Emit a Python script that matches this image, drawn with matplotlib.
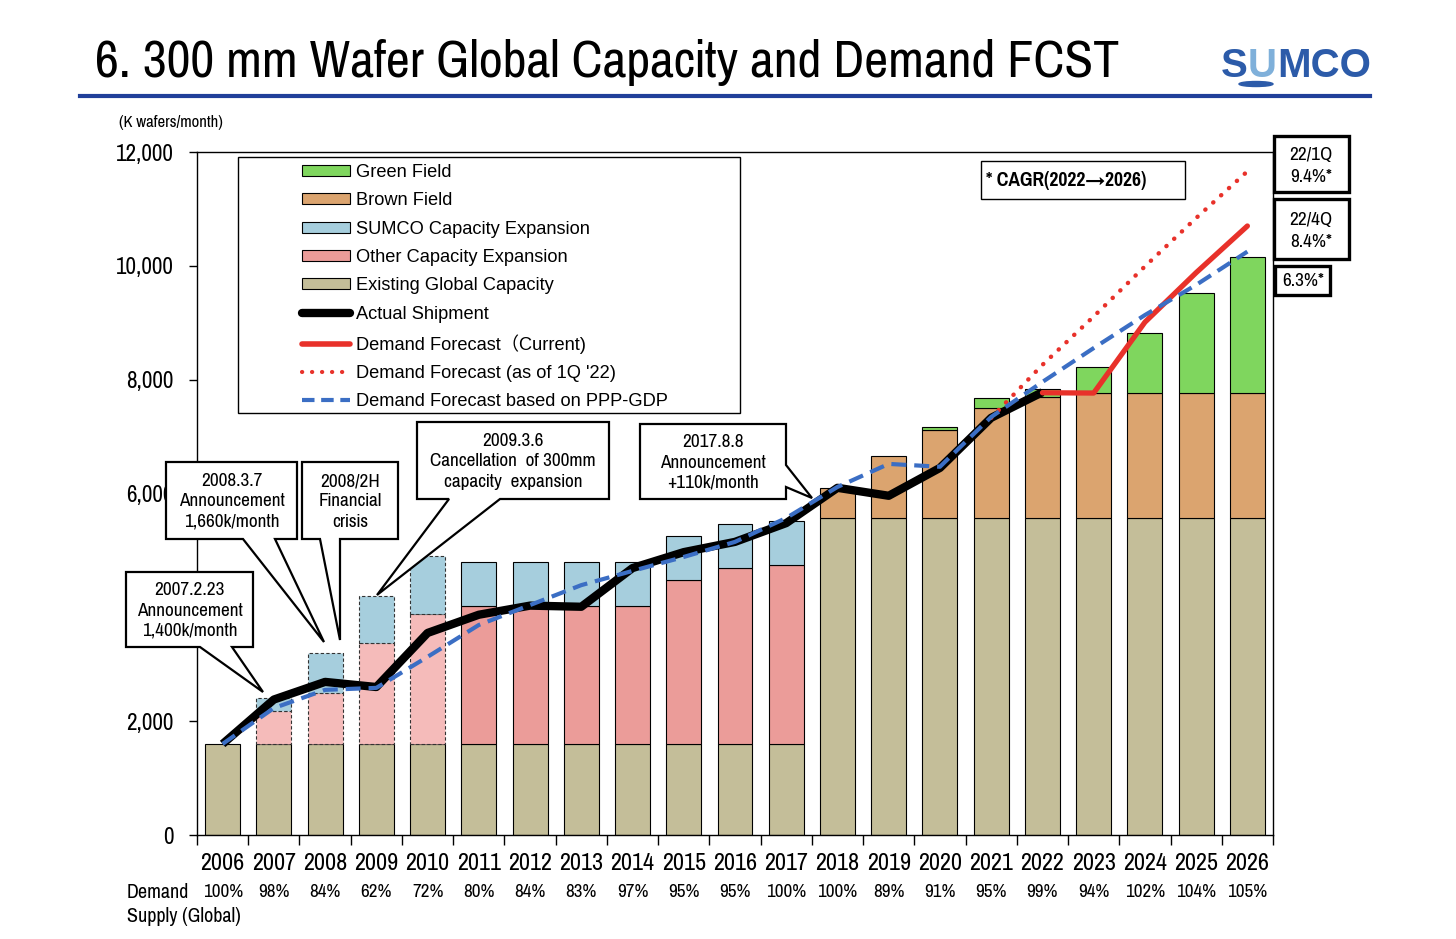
import matplotlib
matplotlib.use('Agg')
import matplotlib.pyplot as plt
import matplotlib.transforms as mtransforms
from matplotlib.patches import Rectangle, Polygon, Ellipse, Patch
from matplotlib.lines import Line2D
from matplotlib.ticker import FixedLocator
from matplotlib import font_manager as fm
import numpy as np

# ---------------- data ----------------
years = [2006, 2007, 2008, 2009, 2010, 2011, 2012, 2013, 2014, 2015, 2016,
         2017, 2018, 2019, 2020, 2021, 2022, 2023, 2024, 2025, 2026]
existing_capacity = [1600, 1600, 1600, 1600, 1600, 1600, 1600, 1600, 1600, 1600, 1600,
                     1600, 5570, 5570, 5570, 5570, 5570, 5570, 5570, 5570, 5570]
other_expansion = [0, 580, 895, 1775, 2285, 2420, 2420, 2420, 2420, 2880, 3090,
                   3145, 0, 0, 0, 0, 0, 0, 0, 0, 0]
sumco_expansion = [0, 230, 700, 825, 1020, 775, 775, 775, 775, 775, 775,
                   775, 0, 0, 0, 0, 0, 0, 0, 0, 0]
brown_field = [0, 0, 0, 0, 0, 0, 0, 0, 0, 0, 0,
               0, 530, 1090, 1550, 1935, 2130, 2195, 2195, 2195, 2195]
green_field = [0, 0, 0, 0, 0, 0, 0, 0, 0, 0, 0,
               0, 0, 0, 50, 175, 140, 455, 1055, 1755, 2390]
nan = np.nan
actual_shipment = [1600, 2380, 2690, 2600, 3550, 3870, 4030, 4010, 4690, 4970, 5150,
                   5480, 6100, 5960, 6450, 7330, 7780, nan, nan, nan, nan]
demand_current = [nan, nan, nan, nan, nan, nan, nan, nan, nan, nan, nan,
                  nan, nan, nan, nan, nan, 7770, 7765, 9010, 9880, 10700]
demand_1q22 = [nan, nan, nan, nan, nan, nan, nan, nan, nan, nan, nan,
               nan, nan, nan, nan, 7330, 8260, 9110, 9990, 10840, 11660]
demand_ppp_gdp = [1600, 2230, 2550, 2585, 3130, 3690, 4040, 4390, 4640, 4885, 5150,
                  5570, 6115, 6520, 6470, 7345, 7960, 8555, 9135, 9665, 10250]
demand_supply_ratio = ['100%', '98%', '84%', '62%', '72%', '80%', '84%', '83%', '97%',
                       '95%', '95%', '100%', '100%', '89%', '91%', '95%', '99%', '94%',
                       '102%', '104%', '105%']
planned_years = [2007, 2008, 2009, 2010]   # drawn with dashed outlines
y_ticks = [0, 2000, 4000, 6000, 8000, 10000, 12000]
y_tick_labels = ['0', '2,000', '', '6,000', '8,000', '10,000', '12,000']  # 4,000 hidden by callout

# ---------------- fonts ----------------
names = {f.name for f in fm.fontManager.ttflist}
NARROW = 'Liberation Sans'
for cand in ['Liberation Sans Narrow', 'Arial Narrow', 'Pragati Narrow', 'Roboto Condensed',
             'Archivo Narrow', 'PT Sans Narrow', 'IBM Plex Sans Condensed', 'Open Sans Condensed']:
    if cand in names:
        NARROW = cand
        break
REGULAR = 'Arimo' if 'Arimo' in names else 'Liberation Sans'
NARROW_FAM = [NARROW, 'DejaVu Sans']
REG_FAM = [REGULAR, 'Noto Sans CJK JP', 'DejaVu Sans']
plt.rcParams['font.family'] = NARROW_FAM

# ---------------- colours ----------------
C_EXIST = '#C4BE99'
C_OTHER = '#EB9C99'
C_OTHER_L = '#F5BBBA'
C_SUMCO = '#A6CEDD'
C_BROWN = '#DBA46F'
C_GREEN = '#7FD65E'
C_RED = '#E8312A'
C_BLUE = '#3B6EC4'
DOTS = (0, (0.05, 2.35))
DASH = (0, (3.6, 1.9))

W, H = 1456, 939
fig = plt.figure(figsize=(W / 100, H / 100), dpi=100)
fig.patch.set_facecolor('white')
T = mtransforms.Affine2D().scale(1 / W, -1 / H).translate(0, 1) + fig.transFigure
R = fig.canvas.get_renderer()


def fit(text, width_px, family=None, weight='normal'):
    t = fig.text(0, 0, text, fontsize=100, family=family or NARROW_FAM, fontweight=weight)
    w = t.get_window_extent(R).width
    t.remove()
    return 100.0 * width_px / w


FS_XT = fit('2006', 44)
FS_YT = fit('12,000', 58)
FS_PCT = fit('100%', 40)
FS_CALL = fit('Announcement', 106)
FS_LEG = fit('SUMCO Capacity Expansion', 235, REG_FAM)
FS_BOX = fit('22/1Q', 43)
FS_CAGR = fit('* CAGR(2022→2026)', 160, weight='bold')
FS_DEM = fit('Demand', 62)
FS_UNIT = fit('(K wafers/month)', 104)
FS_TITLE = fit('6. 300 mm Wafer Global Capacity and Demand FCST', 1025)

ax = fig.add_axes([197 / W, 1 - 835 / H, (1273 - 197) / W, (835 - 152) / H])
x = np.arange(len(years))
bw = 0.683

ex = np.array(existing_capacity, float)
ot = np.array(other_expansion, float)
su = np.array(sumco_expansion, float)
br = np.array(brown_field, float)
gr = np.array(green_field, float)

planned_idx = [years.index(y) for y in planned_years]
other_colors = [C_OTHER_L if i in planned_idx else C_OTHER for i in range(len(years))]

b_ex = ax.bar(x, ex, bw, color=C_EXIST, edgecolor='black', linewidth=0.8, zorder=2)
b_ot = ax.bar(x, ot, bw, bottom=ex, color=other_colors, edgecolor='black', linewidth=0.8, zorder=2)
b_su = ax.bar(x, su, bw, bottom=ex + ot, color=C_SUMCO, edgecolor='black', linewidth=0.8, zorder=2)
b_br = ax.bar(x, br, bw, bottom=ex + ot + su, color=C_BROWN, edgecolor='black', linewidth=0.8, zorder=2)
b_gr = ax.bar(x, gr, bw, bottom=ex + ot + su + br, color=C_GREEN, edgecolor='black', linewidth=0.8, zorder=2)
for i in range(len(years)):
    for bars, vals in ((b_ot, ot), (b_su, su), (b_br, br), (b_gr, gr)):
        if vals[i] == 0:
            bars[i].set_visible(False)
    if i in planned_idx:
        for bars in (b_ot, b_su):
            bars[i].set_linestyle((0, (3, 2)))
            bars[i].set_edgecolor('#333333')

ax.plot(x, actual_shipment, color='black', lw=6, zorder=4, solid_capstyle='butt')
ax.plot(x, demand_current, color=C_RED, lw=3.8, zorder=4.5, solid_capstyle='round')
ax.plot(x, demand_1q22, color=C_RED, lw=3.2, linestyle=DOTS, dash_capstyle='round', zorder=5)
ax.plot(x, demand_ppp_gdp, color=C_BLUE, lw=3.0, linestyle=DASH, zorder=6)

ax.set_xlim(-0.5, len(years) - 0.5)
ax.set_ylim(0, 12000)
ax.yaxis.set_major_locator(FixedLocator(y_ticks))
ax.set_yticklabels(y_tick_labels)
ax.tick_params(axis='y', direction='out', length=6, width=1, pad=11, labelsize=FS_YT)
ax.set_xticks(x)
ax.set_xticklabels([str(y) for y in years])
ax.set_xticks(np.arange(-0.5, len(years), 1.0), minor=True)
ax.tick_params(axis='x', which='major', length=0, pad=13, labelsize=FS_XT)
ax.tick_params(axis='x', which='minor', direction='out', length=7, width=1)
for s in ax.spines.values():
    s.set_linewidth(1.0)
    s.set_color('black')

# demand / supply ratio row
bt = mtransforms.blended_transform_factory(ax.transData, T)
for i, s in enumerate(demand_supply_ratio):
    ax.text(x[i], 892, s, transform=bt, ha='center', va='center', fontsize=FS_PCT, clip_on=False)
fig.text(127, 892, 'Demand', transform=T, ha='left', va='center', fontsize=FS_DEM)
fig.text(127, 916, 'Supply (Global)', transform=T, ha='left', va='center', fontsize=FS_DEM)
fig.text(119, 123, '(K wafers/month)', transform=T, ha='left', va='center', fontsize=FS_UNIT)

# ---------------- legend ----------------
handles = [
    Patch(facecolor=C_GREEN, edgecolor='black', linewidth=0.8),
    Patch(facecolor=C_BROWN, edgecolor='black', linewidth=0.8),
    Patch(facecolor=C_SUMCO, edgecolor='black', linewidth=0.8),
    Patch(facecolor=C_OTHER, edgecolor='black', linewidth=0.8),
    Patch(facecolor=C_EXIST, edgecolor='black', linewidth=0.8),
    Line2D([], [], color='black', lw=6, solid_capstyle='round'),
    Line2D([], [], color=C_RED, lw=4, solid_capstyle='round'),
    Line2D([], [], color=C_RED, lw=3.0, linestyle=DOTS, dash_capstyle='round'),
    Line2D([], [], color=C_BLUE, lw=3, linestyle=(0, (3.0, 1.6))),
]
labels = ['Green Field', 'Brown Field', 'SUMCO Capacity Expansion', 'Other Capacity Expansion',
          'Existing Global Capacity', 'Actual Shipment', 'Demand Forecast（Current)',
          "Demand Forecast (as of 1Q '22)", 'Demand Forecast based on PPP-GDP']
leg = ax.legend(handles, labels, loc='upper left', bbox_to_anchor=(302, 164), bbox_transform=T,
                frameon=False, borderpad=0, borderaxespad=0, handlelength=2.6, handleheight=0.55,
                handletextpad=0.35, labelspacing=0.62, prop={'family': REG_FAM, 'size': FS_LEG})
leg.set_zorder(8)
ax.add_patch(Rectangle((238, 157), 740 - 238, 413 - 157, transform=T, fill=False,
                       edgecolor='black', lw=1.0, zorder=7, clip_on=False))

# ---------------- CAGR boxes ----------------
def box(x0, y0, x1, y1, lw, z=9):
    fig.add_artist(Rectangle((x0, y0), x1 - x0, y1 - y0, transform=T, facecolor='white',
                             edgecolor='black', lw=lw, zorder=z))

box(981, 161, 1185, 199, 1.0)
fig.text(986, 180, '* CAGR(2022→2026)', transform=T, ha='left', va='center', fontsize=FS_CAGR,
         fontweight='bold', zorder=10)
box(1274, 136, 1349, 192, 2.4)
fig.text(1311, 166, '22/1Q\n9.4%*', transform=T, ha='center', va='center', fontsize=FS_BOX,
         linespacing=1.45, zorder=10)
box(1274, 199, 1349, 259, 2.4)
fig.text(1311, 231, '22/4Q\n8.4%*', transform=T, ha='center', va='center', fontsize=FS_BOX,
         linespacing=1.45, zorder=10)
box(1275, 266, 1330, 295, 2.4)
fig.text(1303, 281, '6.3%*', transform=T, ha='center', va='center', fontsize=FS_BOX, zorder=10)

# ---------------- callouts ----------------
def callout(text, bx, edge, base, tip):
    x0, y0, x1, y1 = bx
    b1, b2 = base
    if edge == 'bottom':
        pts = [(x0, y0), (x1, y0), (x1, y1), (b2, y1), tip, (b1, y1), (x0, y1)]
    else:
        pts = [(x0, y0), (x1, y0), (x1, b1), tip, (x1, b2), (x1, y1), (x0, y1)]
    fig.add_artist(Polygon(pts, closed=True, transform=T, facecolor='white',
                           edgecolor='black', lw=1.6, joinstyle='miter', zorder=9))
    fig.text((x0 + x1) / 2, (y0 + y1) / 2 + 1, text, transform=T, ha='center', va='center',
             fontsize=FS_CALL, linespacing=1.33, zorder=10)

callout('2007.2.23\nAnnouncement\n1,400k/month', (126, 572, 253, 647), 'bottom', (200, 232), (263, 692))
callout('2008.3.7\nAnnouncement\n1,660k/month', (166, 462, 297, 539), 'bottom', (243, 275), (324, 642))
callout('2008/2H\nFinancial\ncrisis', (302, 462, 398, 539), 'bottom', (320, 340), (340, 640))
callout('2009.3.6\nCancellation  of 300mm\ncapacity  expansion', (417, 422, 609, 499), 'bottom',
        (449, 500), (377, 595))
callout('2017.8.8\nAnnouncement\n+110k/month', (640, 424, 786, 499), 'right', (465, 487), (812, 498))

# ---------------- title & logo ----------------
fig.text(95, 77, '6. 300 mm Wafer Global Capacity and Demand FCST', transform=T, ha='left',
         va='baseline', fontsize=FS_TITLE, color='black')
fig.add_artist(Line2D([80, 1370], [96, 96], transform=T, color='#21409A', lw=3))

xpos = 1221
for ch, col in (('S', '#2C5BA9'), ('U', '#7FB0DA'), ('MCO', '#2C5BA9')):
    t = fig.text(xpos, 77, ch, transform=T, ha='left', va='baseline', fontsize=29,
                 fontweight='bold', family=[REGULAR, 'DejaVu Sans'], color=col)
    xpos += t.get_window_extent(R).width
fig.add_artist(Ellipse((1256, 84), 34, 5, transform=T, color='#2C5BA9'))

fig.savefig('out.png', dpi=100, facecolor='white')
